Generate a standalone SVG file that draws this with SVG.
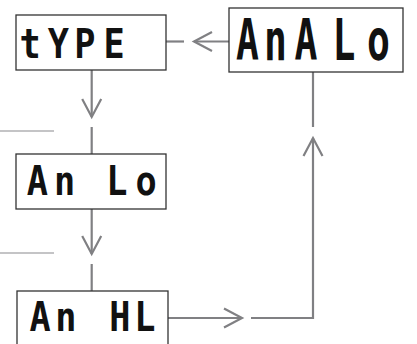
<svg xmlns="http://www.w3.org/2000/svg" width="417" height="344" viewBox="0 0 417 344">
<style>
.box{fill:#fff;stroke:#333;stroke-width:1.3}
.seg{font-family:"DejaVu Sans Mono","Liberation Mono",monospace;font-weight:bold;fill:#111;text-anchor:middle}
.con{fill:none;stroke:#808083;stroke-width:2.2}
.thin{fill:none;stroke:#8a8a8d;stroke-width:1.2}
</style>
<defs>
<marker id="chev" markerUnits="userSpaceOnUse" viewBox="-21 -12 24 24" markerWidth="24" markerHeight="24" refX="0" refY="0" orient="auto">
<path d="M-18,-9.5 L0,0 L-18,9.5" fill="none" stroke="#808083" stroke-width="2.2"/>
</marker>
</defs>
<g id="decor">
<line class="thin" x1="0" y1="131" x2="54" y2="131"/>
<line class="thin" x1="0" y1="253" x2="54" y2="253"/>
</g>
<g id="connectors">
<path class="con" d="M229,41.5 H194" marker-end="url(#chev)"/>
<path class="con" d="M184,41.5 H166"/>
<path class="con" d="M91.7,70 V117" marker-end="url(#chev)"/>
<path class="con" d="M91.7,127 V154"/>
<path class="con" d="M91.7,209 V254" marker-end="url(#chev)"/>
<path class="con" d="M91.7,264 V291"/>
<path class="con" d="M168,318 H242" marker-end="url(#chev)"/>
<path class="con" d="M251,318 H313 V138" marker-end="url(#chev)"/>
<path class="con" d="M313,127 V72"/>
</g>
<g id="node-type">
<rect class="box" x="16" y="15" width="150" height="55"/>
<text class="seg" font-size="41" transform="scale(0.86 1)" x="34.9 68.0 98.8 132.6" y="58">tYPE</text>
</g>
<g id="node-analo">
<rect class="box" x="229" y="8" width="174" height="64"/>
<text class="seg" font-size="56" transform="scale(0.68 1)" x="364.0 405.1 450.0 505.9 556.6" y="60">AnALo</text>
</g>
<g id="node-anlo">
<rect class="box" x="16" y="154" width="150" height="55"/>
<text class="seg" font-size="41" transform="scale(0.86 1)" x="43.6 75.0 105 136.0 169.8" y="195">An Lo</text>
</g>
<g id="node-anhl">
<rect class="box" x="17" y="291" width="151" height="60"/>
<text class="seg" font-size="41" transform="scale(0.86 1)" x="46.5 76.7 108 139.5 168.6" y="331">An HL</text>
</g>
</svg>
